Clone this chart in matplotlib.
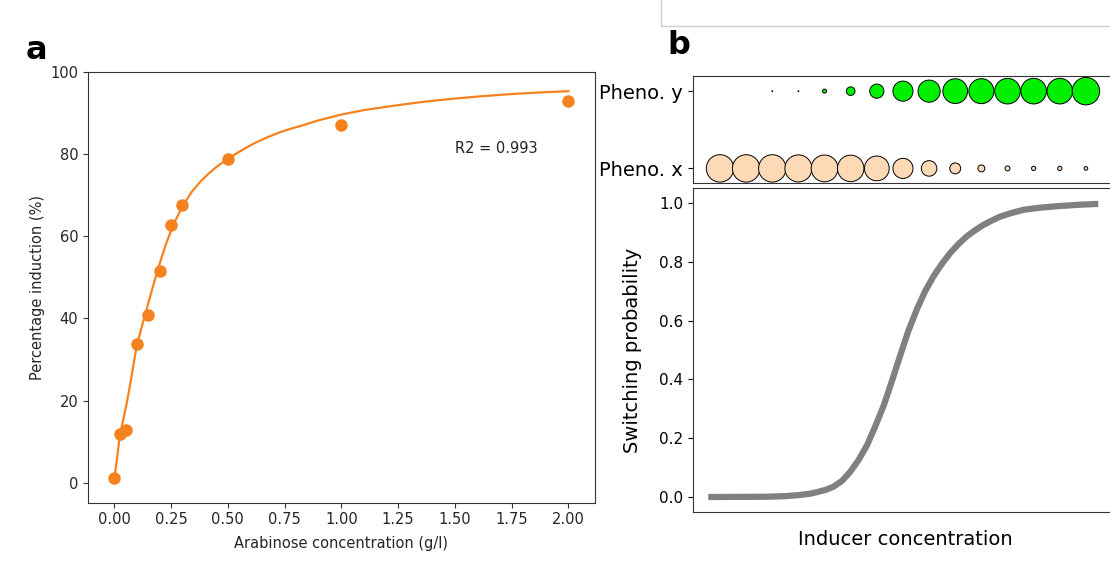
import numpy as np
import matplotlib
matplotlib.use("Agg")
import matplotlib.pyplot as plt
from matplotlib.lines import Line2D

# --- panel a: arabinose induction data ---
arabinose = [0.0, 0.025, 0.05, 0.1, 0.15, 0.2, 0.25, 0.3, 0.5, 1.0, 2.0]
induction = [1.1, 11.9, 12.7, 33.7, 40.8, 51.6, 62.8, 67.6, 78.9, 87.2, 93.1]

# fitted curve
fit_x = [0.0, 0.011, 0.025, 0.04, 0.055, 0.07, 0.085, 0.1, 0.12, 0.15, 0.17,
         0.19, 0.206, 0.228, 0.26, 0.304, 0.34, 0.378, 0.415, 0.451, 0.502,
         0.54, 0.583, 0.62, 0.671, 0.73, 0.78, 0.819, 0.9, 1.0, 1.1, 1.25,
         1.375, 1.5, 1.625, 1.75, 1.875, 2.0]
fit_y = [1.0, 5.5, 11.8, 15.5, 19.5, 24.0, 29.0, 33.7, 37.8, 43.8, 47.8,
         51.6, 54.5, 58.2, 62.9, 67.7, 70.8, 73.3, 75.3, 77.0, 79.0,
         80.3, 81.7, 82.8, 84.1, 85.4, 86.3, 86.9, 88.3, 89.7, 90.8, 92.0,
         92.9, 93.6, 94.2, 94.7, 95.1, 95.4]
r2_text = "R2 = 0.993"

# --- panel b: schematic switching ---
pheno_labels = ["Pheno. x", "Pheno. y"]
# relative bubble areas along the inducer axis (15 steps)
pheno_x_frac = [1.0, 1.0, 1.0, 0.974, 0.953, 0.932, 0.815, 0.537, 0.321, 0.158,
                0.064, 0.033, 0.024, 0.024, 0.018]
pheno_y_frac = [0.0, 0.0, 0.001, 0.001, 0.021, 0.099, 0.267, 0.537, 0.65, 0.815,
                0.83, 0.87, 0.87, 0.87, 1.0]

inducer = [0.0, 0.1, 0.15, 0.2, 0.236, 0.26, 0.28, 0.30, 0.321, 0.343, 0.364,
           0.385, 0.407, 0.428, 0.45, 0.471, 0.492, 0.513, 0.535, 0.556, 0.578,
           0.60, 0.621, 0.642, 0.663, 0.685, 0.706, 0.728, 0.749, 0.78, 0.809,
           0.85, 0.894, 0.95, 1.0]
switch_prob = [0.0, 0.0005, 0.001, 0.003, 0.007, 0.011, 0.017, 0.024, 0.035, 0.055,
               0.086, 0.125, 0.176, 0.240, 0.312, 0.395, 0.481, 0.565, 0.639, 0.700,
               0.752, 0.795, 0.831, 0.861, 0.887, 0.908, 0.926, 0.941, 0.954, 0.967,
               0.977, 0.984, 0.989, 0.994, 0.997]

W, H = 1110, 561
fig = plt.figure(figsize=(W / 100, H / 100), dpi=100)

def box(l, t, r, b):
    return [l / W, (H - b) / H, (r - l) / W, (b - t) / H]

orange = "#f5821f"
dark = "#333333"

# ---------- panel a ----------
ax = fig.add_axes(box(88, 72.3, 595, 502.7))
ax.plot(fit_x, fit_y, color=orange, lw=1.6)
ax.plot(arabinose, induction, "o", color=orange, ms=8)
ax.text(1.5, 81.5, r2_text, ha="left", va="center", fontsize=10.5, color="#222222")
ax.set_xlim(-0.116, 2.117)
ax.set_ylim(-4.9, 100)
ax.set_xticks(np.arange(0, 2.01, 0.25))
ax.set_xticklabels([f"{v:.2f}" for v in np.arange(0, 2.01, 0.25)])
ax.set_yticks([0, 20, 40, 60, 80, 100])
ax.tick_params(labelsize=10.5, colors=dark, labelcolor="#262626")
ax.set_xlabel("Arabinose concentration (g/l)", fontsize=10.5, color="#262626", labelpad=6)
ax.set_ylabel("Percentage induction (%)", fontsize=10.5, color="#262626")
for s in ax.spines.values():
    s.set_color(dark)

fig.text(26 / W, (H - 59) / H, "a", fontsize=23, fontweight="bold", va="baseline")
fig.text(667 / W, (H - 54) / H, "b", fontsize=23, fontweight="bold", va="baseline")

# thin gray frame at the top right
fig.add_artist(Line2D([660.7 / W, 660.7 / W], [1.0, (H - 26) / H], color="#cccccc", lw=1))
fig.add_artist(Line2D([660.7 / W, 1.0], [(H - 26) / H, (H - 26) / H], color="#cccccc", lw=1))

# ---------- panel b: bubbles ----------
max_s = 390
steps = np.arange(len(pheno_x_frac))
bx = fig.add_axes(box(692.7, 75.7, 1117.8, 182.7))
bx.scatter(steps, np.zeros_like(steps), s=np.array(pheno_x_frac) * max_s,
           color="#fdd9b5", edgecolor="black", linewidth=0.7, zorder=3)
ymask = np.array(pheno_y_frac) > 0
bx.scatter(steps[ymask], np.ones(ymask.sum()), s=np.array(pheno_y_frac)[ymask] * max_s,
           color="#00f000", edgecolor="black", linewidth=0.7, zorder=3)
bx.set_xlim(-1.045, 15.22)
bx.set_ylim(-0.185, 1.2)
bx.set_xticks([])
bx.set_yticks([0, 1])
bx.set_yticklabels(pheno_labels)
bx.tick_params(labelsize=14)
for s in bx.spines.values():
    s.set_color(dark)

# ---------- panel b: switching curve ----------
cx = fig.add_axes(box(692.7, 188.3, 1117.8, 511.7))
cx.plot(inducer, switch_prob, color="#808080", lw=4.5, solid_capstyle="butt",
        solid_joinstyle="round")
cx.set_xlim(-0.04, 1.05)
cx.set_ylim(-0.05, 1.05)
cx.set_xticks([])
cx.set_yticks([0.0, 0.2, 0.4, 0.6, 0.8, 1.0])
cx.tick_params(labelsize=11)
cx.set_xlabel("Inducer concentration", fontsize=14, labelpad=13)
cx.set_ylabel("Switching probability", fontsize=14, labelpad=12)
for s in cx.spines.values():
    s.set_color(dark)

fig.savefig("out.png", dpi=100)
